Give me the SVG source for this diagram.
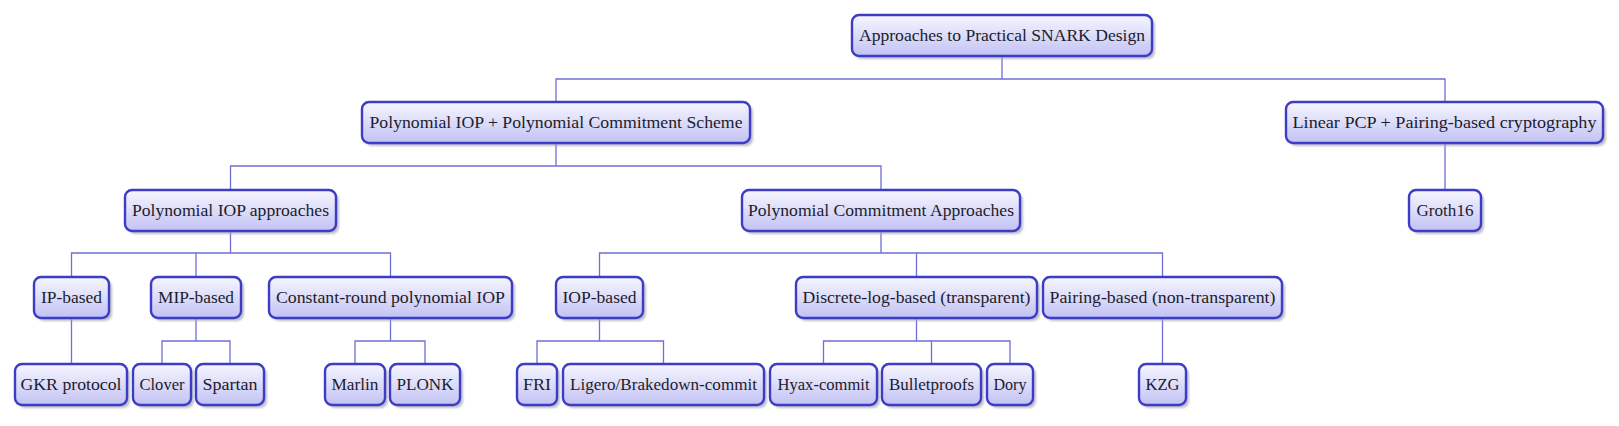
<svg xmlns="http://www.w3.org/2000/svg" width="1619" height="426" viewBox="0 0 1619 426">
<defs>
<linearGradient id="g" x1="0" y1="0" x2="0" y2="1">
<stop offset="0" stop-color="#f6f6ff"/>
<stop offset="1" stop-color="#c2c2f4"/>
</linearGradient>
<filter id="sh" x="-10%" y="-20%" width="120%" height="160%">
<feGaussianBlur stdDeviation="1.2"/>
</filter>
<style>
.s{fill:#a8a8b8;opacity:0.75;filter:url(#sh)}
.b{fill:url(#g);stroke:#3c3cc6;stroke-width:2.4}
.t{font-size:17px;fill:#1c1c2c;text-anchor:middle}
.c{fill:none;stroke:#6f6fd6;stroke-width:1.3}
</style>
</defs>
<rect width="1619" height="426" fill="#ffffff"/>
<g id="connectors">
<path class="c" d="M1002,56 V79 M556,102 V79 H1445 V102"/>
<path class="c" d="M556,143 V166 M230.5,190 V166 H881 V190"/>
<path class="c" d="M1445,143 V190"/>
<path class="c" d="M230.5,231 V253 M71.5,277 V253 H390.5 V277 M196,253 V277"/>
<path class="c" d="M881,231 V253 M599.5,277 V253 H1162.5 V277 M916.5,253 V277"/>
<path class="c" d="M71.5,318 V364"/>
<path class="c" d="M196,318 V341 M162,364 V341 H230 V364"/>
<path class="c" d="M390.5,318 V341 M355,364 V341 H425 V364"/>
<path class="c" d="M599.5,318 V341 M537,364 V341 H663.5 V364"/>
<path class="c" d="M916.5,318 V341 M823.5,364 V341 H1010 V364 M931.5,341 V364"/>
<path class="c" d="M1162.5,318 V364"/>
</g>
<g font-family="Liberation Serif, Times New Roman, Times, Tinos, DejaVu Serif, Noto Serif, FreeSerif, serif">
<g id="root"><rect class="s" x="855" y="18" width="300" height="41" rx="7"/><rect class="b" x="852" y="15" width="300" height="41" rx="7"/><text class="t" x="1002" y="41" textLength="286" lengthAdjust="spacingAndGlyphs">Approaches to Practical SNARK Design</text></g>
<g id="piop-pcs"><rect class="s" x="365" y="105" width="388" height="41" rx="7"/><rect class="b" x="362" y="102" width="388" height="41" rx="7"/><text class="t" x="556" y="128" textLength="373" lengthAdjust="spacingAndGlyphs">Polynomial IOP + Polynomial Commitment Scheme</text></g>
<g id="linear-pcp"><rect class="s" x="1289" y="105" width="317" height="41" rx="7"/><rect class="b" x="1286" y="102" width="317" height="41" rx="7"/><text class="t" x="1444.5" y="128" textLength="304" lengthAdjust="spacingAndGlyphs">Linear PCP + Pairing-based cryptography</text></g>
<g id="piop-approaches"><rect class="s" x="128" y="193" width="211" height="41" rx="7"/><rect class="b" x="125" y="190" width="211" height="41" rx="7"/><text class="t" x="230.5" y="216" textLength="197" lengthAdjust="spacingAndGlyphs">Polynomial IOP approaches</text></g>
<g id="pc-approaches"><rect class="s" x="745" y="193" width="278" height="41" rx="7"/><rect class="b" x="742" y="190" width="278" height="41" rx="7"/><text class="t" x="881" y="216" textLength="266" lengthAdjust="spacingAndGlyphs">Polynomial Commitment Approaches</text></g>
<g id="groth16"><rect class="s" x="1412" y="193" width="72" height="41" rx="7"/><rect class="b" x="1409" y="190" width="72" height="41" rx="7"/><text class="t" x="1445" y="216" textLength="57" lengthAdjust="spacingAndGlyphs">Groth16</text></g>
<g id="ip-based"><rect class="s" x="37" y="280" width="75" height="41" rx="7"/><rect class="b" x="34" y="277" width="75" height="41" rx="7"/><text class="t" x="71.5" y="303" textLength="61" lengthAdjust="spacingAndGlyphs">IP-based</text></g>
<g id="mip-based"><rect class="s" x="154" y="280" width="90" height="41" rx="7"/><rect class="b" x="151" y="277" width="90" height="41" rx="7"/><text class="t" x="196" y="303" textLength="76" lengthAdjust="spacingAndGlyphs">MIP-based</text></g>
<g id="constant-round"><rect class="s" x="272" y="280" width="243" height="41" rx="7"/><rect class="b" x="269" y="277" width="243" height="41" rx="7"/><text class="t" x="390.5" y="303" textLength="229" lengthAdjust="spacingAndGlyphs">Constant-round polynomial IOP</text></g>
<g id="iop-based"><rect class="s" x="559" y="280" width="87" height="41" rx="7"/><rect class="b" x="556" y="277" width="87" height="41" rx="7"/><text class="t" x="599.5" y="303" textLength="74" lengthAdjust="spacingAndGlyphs">IOP-based</text></g>
<g id="discrete-log"><rect class="s" x="799" y="280" width="241" height="41" rx="7"/><rect class="b" x="796" y="277" width="241" height="41" rx="7"/><text class="t" x="916.5" y="303" textLength="228" lengthAdjust="spacingAndGlyphs">Discrete-log-based (transparent)</text></g>
<g id="pairing-based"><rect class="s" x="1046" y="280" width="239" height="41" rx="7"/><rect class="b" x="1043" y="277" width="239" height="41" rx="7"/><text class="t" x="1162.5" y="303" textLength="226" lengthAdjust="spacingAndGlyphs">Pairing-based (non-transparent)</text></g>
<g id="gkr"><rect class="s" x="18" y="367" width="112" height="41" rx="7"/><rect class="b" x="15" y="364" width="112" height="41" rx="7"/><text class="t" x="71" y="390" textLength="101" lengthAdjust="spacingAndGlyphs">GKR protocol</text></g>
<g id="clover"><rect class="s" x="136" y="367" width="58" height="41" rx="7"/><rect class="b" x="133" y="364" width="58" height="41" rx="7"/><text class="t" x="162" y="390" textLength="45" lengthAdjust="spacingAndGlyphs">Clover</text></g>
<g id="spartan"><rect class="s" x="199" y="367" width="68" height="41" rx="7"/><rect class="b" x="196" y="364" width="68" height="41" rx="7"/><text class="t" x="230" y="390" textLength="55" lengthAdjust="spacingAndGlyphs">Spartan</text></g>
<g id="marlin"><rect class="s" x="328" y="367" width="60" height="41" rx="7"/><rect class="b" x="325" y="364" width="60" height="41" rx="7"/><text class="t" x="355" y="390" textLength="47" lengthAdjust="spacingAndGlyphs">Marlin</text></g>
<g id="plonk"><rect class="s" x="393" y="367" width="70" height="41" rx="7"/><rect class="b" x="390" y="364" width="70" height="41" rx="7"/><text class="t" x="425" y="390" textLength="57" lengthAdjust="spacingAndGlyphs">PLONK</text></g>
<g id="fri"><rect class="s" x="520" y="367" width="40" height="41" rx="7"/><rect class="b" x="517" y="364" width="40" height="41" rx="7"/><text class="t" x="537" y="390" textLength="28" lengthAdjust="spacingAndGlyphs">FRI</text></g>
<g id="ligero"><rect class="s" x="566" y="367" width="201" height="41" rx="7"/><rect class="b" x="563" y="364" width="201" height="41" rx="7"/><text class="t" x="663.5" y="390" textLength="187" lengthAdjust="spacingAndGlyphs">Ligero/Brakedown-commit</text></g>
<g id="hyax"><rect class="s" x="773" y="367" width="107" height="41" rx="7"/><rect class="b" x="770" y="364" width="107" height="41" rx="7"/><text class="t" x="823.5" y="390" textLength="92" lengthAdjust="spacingAndGlyphs">Hyax-commit</text></g>
<g id="bulletproofs"><rect class="s" x="885" y="367" width="99" height="41" rx="7"/><rect class="b" x="882" y="364" width="99" height="41" rx="7"/><text class="t" x="931.5" y="390" textLength="85" lengthAdjust="spacingAndGlyphs">Bulletproofs</text></g>
<g id="dory"><rect class="s" x="990" y="367" width="46" height="41" rx="7"/><rect class="b" x="987" y="364" width="46" height="41" rx="7"/><text class="t" x="1010" y="390" textLength="33" lengthAdjust="spacingAndGlyphs">Dory</text></g>
<g id="kzg"><rect class="s" x="1142" y="367" width="47" height="41" rx="7"/><rect class="b" x="1139" y="364" width="47" height="41" rx="7"/><text class="t" x="1162.5" y="390" textLength="34" lengthAdjust="spacingAndGlyphs">KZG</text></g>
</g>
</svg>
